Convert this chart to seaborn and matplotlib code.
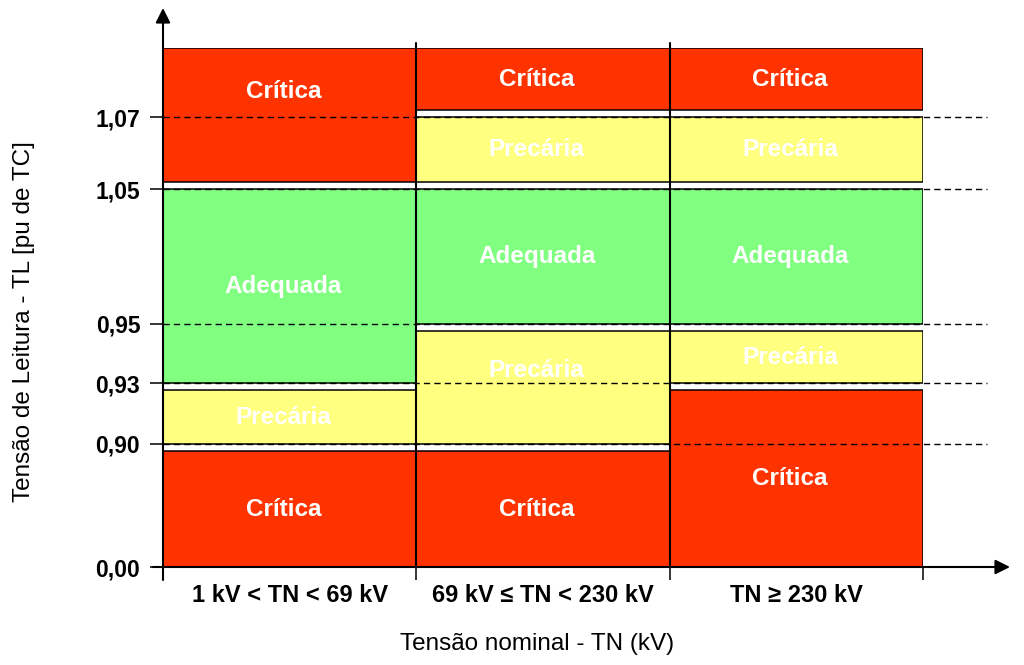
import numpy as np
import matplotlib
matplotlib.use("Agg")
import matplotlib.pyplot as plt
import seaborn as sns

faixas_tn = ["1 kV < TN < 69 kV", "69 kV ≤ TN < 230 kV", "TN ≥ 230 kV"]

niveis_tl = [0.00, 0.90, 0.93, 0.95, 1.05, 1.07]
rotulos_tl = ["0,00", "0,90", "0,93", "0,95", "1,05", "1,07"]
teto_tl = 1.09

# limites de cada faixa (de baixo para cima) e a classificacao entre eles
limites_1 = [0.00, 0.90, 0.93, 1.05, 1.09]
classes_1 = ["Crítica", "Precária", "Adequada", "Crítica"]
limites_2 = [0.00, 0.90, 0.95, 1.05, 1.07, 1.09]
classes_2 = ["Crítica", "Precária", "Adequada", "Precária", "Crítica"]
limites_3 = [0.00, 0.93, 0.95, 1.05, 1.07, 1.09]
classes_3 = ["Crítica", "Precária", "Adequada", "Precária", "Crítica"]

cores = {"Crítica": "#ff3300", "Precária": "#ffff80", "Adequada": "#80ff80"}

# o eixo do original e esquematico, nao linear: posicao (px) de cada nivel
nos_eixo = niveis_tl + [teto_tl]
pos_eixo = [0, 123, 184, 243, 378, 450, 519]

# deslocamento (px, para cima) de alguns rotulos, como no original
desloc_rotulo = {(0, 3): 23, (1, 1): 17}


def fwd(v):
    return np.interp(v, nos_eixo, pos_eixo)


def inv(p):
    return np.interp(p, pos_eixo, nos_eixo)


sns.set_theme(style="ticks")
plt.rcParams["font.family"] = ["Liberation Sans", "DejaVu Sans"]
plt.rcParams["text.color"] = "black"
plt.rcParams["axes.labelcolor"] = "black"
plt.rcParams["xtick.color"] = "black"
plt.rcParams["ytick.color"] = "black"

fig = plt.figure(figsize=(10.24, 6.65), dpi=100)
ax = fig.add_axes([163 / 1024, 98 / 665, 760 / 1024, 519 / 665])
ax.set_yscale("function", functions=(fwd, inv))

folga = 7
colunas = zip([limites_1, limites_2, limites_3], [classes_1, classes_2, classes_3])
for i, (lim, cls) in enumerate(colunas):
    for j, (lo, hi, c) in enumerate(zip(lim[:-1], lim[1:], cls)):
        p0, p1 = fwd(lo), fwd(hi)
        if c != "Adequada" and hi <= 1.0:
            p1 -= folga
        if c != "Adequada" and lo >= 1.0:
            p0 += folga
        y0, y1 = inv(p0), inv(p1)
        ax.bar(i + 0.5, y1 - y0, bottom=y0, width=1, color=cores[c],
               edgecolor="black", linewidth=1.1, zorder=2)
        py = (p0 + p1) / 2 + desloc_rotulo.get((i, j), 0)
        ax.text(i + 0.475, inv(py), c, ha="center", va="center",
                color="white", fontsize=17.5, fontweight="bold", zorder=4)

# linhas tracejadas nos niveis
for n in niveis_tl[1:]:
    ax.plot([0, 1.084], [n, n], transform=ax.get_yaxis_transform(),
            color="black", lw=1, ls=(0, (4.5, 3)), clip_on=False, zorder=3)

# separadores das colunas
for x in [1, 2]:
    ax.plot([x, x], [0, 1.01], transform=ax.get_xaxis_transform(),
            color="black", lw=1.5, clip_on=False, zorder=3)

# eixos com seta
seta = dict(arrowstyle="-|>", color="black", lw=1.5, mutation_scale=22,
            shrinkA=0, shrinkB=0)
ax.annotate("", xy=(0, 559 / 519), xytext=(0, -13 / 519),
            xycoords="axes fraction", arrowprops=seta, zorder=5)
ax.annotate("", xy=(847 / 760, 0), xytext=(-10 / 760, 0),
            xycoords="axes fraction", arrowprops=seta, zorder=5)

sns.despine(ax=ax, left=True, bottom=True)
ax.set_xlim(0, 3)
ax.set_ylim(0, teto_tl)

ax.set_yticks(niveis_tl, rotulos_tl, fontsize=16.5, fontweight="bold")
ax.set_xticks([0, 1, 2, 3], ["", "", "", ""])
ax.set_xticks([0.5, 1.5, 2.5], faixas_tn, minor=True, fontsize=17,
              fontweight="bold")
ax.tick_params(axis="both", which="major", length=9.4, width=1.1,
               direction="out", color="black")
ax.tick_params(axis="x", which="minor", length=0, pad=12)
ax.tick_params(axis="y", pad=7)

ax.set_xlabel("Tensão nominal - TN (kV)", fontsize=17.5)
ax.xaxis.set_label_coords(0.492, -0.128)
ax.set_ylabel("Tensão de Leitura - TL [pu de TC]", fontsize=17.5)
ax.yaxis.set_label_coords(-0.168, 0.472)

fig.savefig("out.png", dpi=100)
